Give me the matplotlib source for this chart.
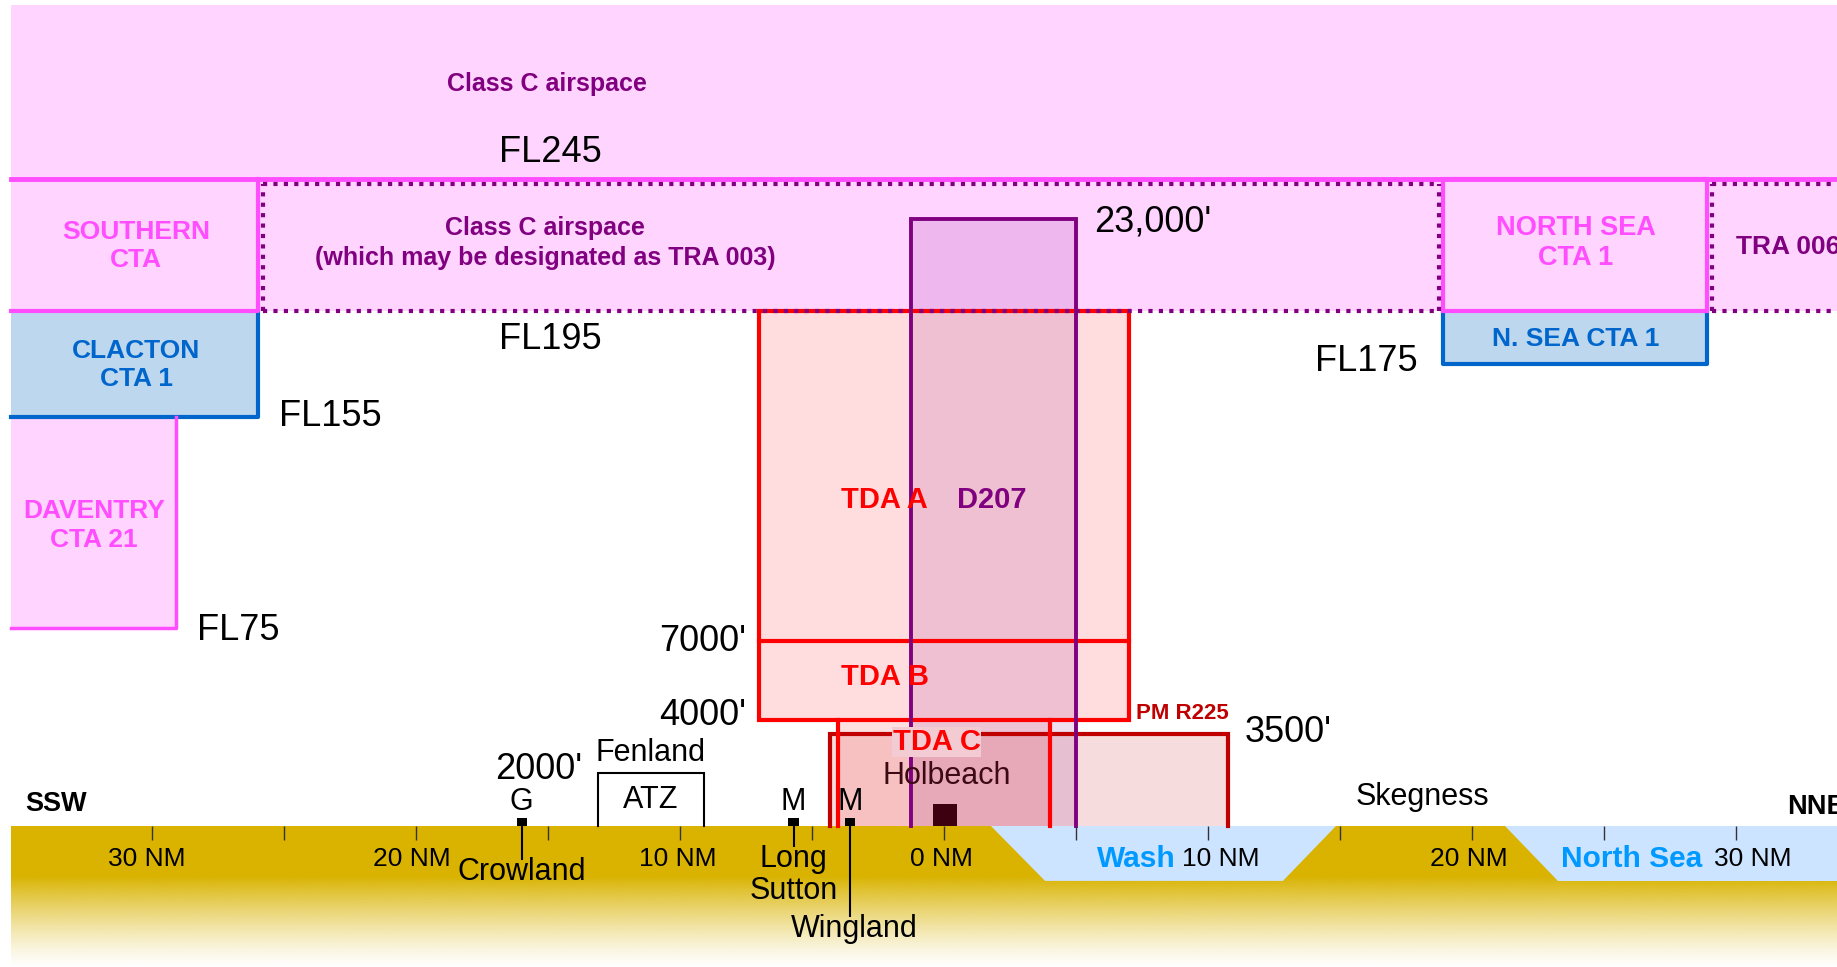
import numpy as np
import matplotlib.pyplot as plt
from matplotlib import font_manager
from matplotlib.patches import Rectangle, Polygon

plt.rcParams['font.family'] = ['Liberation Sans', 'DejaVu Sans']

# the zone names are set in a condensed bold face
installed = {f.name for f in font_manager.fontManager.ttflist}
if 'Liberation Sans Narrow' in installed:
    zone_font = ['Liberation Sans Narrow', 'Liberation Sans']
    zone_scale = 1.2
else:
    zone_font = ['Liberation Sans', 'DejaVu Sans']
    zone_scale = 1.0

# x = distance in NM from Holbeach (negative towards SSW), y = altitude in ft
view_x = (-35.76, 33.83)
view_y = (-5341, 31288)
map_left = -35.35
sky_top = 31100

# airspace blocks (x0, x1, base, top)
class_c = (map_left, view_x[1], 19500, sky_top)
southern_cta = (map_left, -26.0, 19500, 24500)
clacton_cta = (map_left, -26.0, 15500, 19500)
daventry_cta = (map_left, -29.1, 7500, 15500)
north_sea_cta = (18.9, 28.9, 19500, 24500)
n_sea_cta = (18.9, 28.9, 17500, 19500)
d207 = (-1.25, 5.0, 0, 23000)
tda_ab = (-7.0, 7.0, 4000, 19500)
tda_split = 7000
tda_c = (-4.0, 4.0, 0, 4000)
r225 = (-4.3, 10.75, 0, 3500)
fenland_atz = (-13.1, -9.1, 0, 2000)
tra_edges = [-25.8, 18.75, 29.1]

# level labels
level_text = ["FL245", "FL195", "FL155", "FL75", "FL175", "23,000'", "7000'", "4000'", "3500'", "2000'"]
level_ft = [24500, 19500, 15500, 7500, 17500, 23000, 7000, 4000, 3500, 2000]
level_x = [-14.9, -14.9, -25.2, -28.3, 16.0, 5.7, -7.5, -7.5, 11.4, -15.35]
level_ha = ['center', 'center', 'left', 'left', 'center', 'left', 'right', 'right', 'left', 'center']
level_dy = [1030, -1090, 0, -110, 110, -120, 0, 200, 60, 150]

# ground and sea
ticks_nm = np.arange(-30, 31, 5)
scale_nm = [-30, -20, -10, 0, 10, 20, 30]
scale_label_x = [-30.2, -20.15, -10.1, -0.1, 10.5, 19.9, 30.65]
sea_depth = -2080
solid_ground = -1930
wash_top = (1.78, 14.85)
wash_bottom = (3.83, 12.84)
north_sea_top = 21.25
north_sea_bottom = 23.26

# places on the ground
mark_x = [-16.0, -5.7, -3.56]
mark_text = ["G", "M", "M"]
place_names = ["Crowland", "Long\nSutton", "Wingland"]
place_x = [-16.0, -5.7, -3.4]
leader_end = [-1290, -800, -3450]
place_y = [-1750, -1850, -3900]
holbeach_x = 0.05

pink = '#FFD4FF'
magenta = '#FF4DFF'
purple = '#800080'
blue = '#0066CC'
red = '#FF0000'
dark_red = '#C00000'

fig = plt.figure(figsize=(18.37, 9.67), dpi=100)
ax = fig.add_axes([0, 0, 1, 1])
ax.set_axis_off()


def fill(blk, color, z, alpha=1.0):
    x0, x1, b, t = blk
    ax.add_patch(Rectangle((x0, b), x1 - x0, t - b, facecolor=color,
                           edgecolor='none', alpha=alpha, zorder=z))


def three_sides(blk, color, lw, z):
    x0, x1, b, t = blk
    ax.plot([x0, x0, x1, x1], [b, t, t, b], color=color, lw=lw, zorder=z,
            solid_joinstyle='miter')


# fills
fill(class_c, pink, 1)
fill(clacton_cta, '#BDD7EE', 2)
fill(daventry_cta, pink, 2)
fill(n_sea_cta, '#BDD7EE', 2)
fill(r225, '#F6DCDC', 3)
fill(tda_ab, '#FFDDDE', 3)
fill(tda_c, red, 4, alpha=0.12)
fill(d207, purple, 5, alpha=0.13)

# ground with fading bottom
ax.add_patch(Rectangle((map_left, solid_ground), view_x[1] - map_left, -solid_ground,
                       facecolor='#D9B300', edgecolor='none', zorder=6))
fade = np.zeros((200, 1, 4))
fade[:, 0, :3] = np.array([217, 179, 0]) / 255
fade[:, 0, 3] = np.linspace(0.02, 1, 200) ** 1.3
ax.imshow(fade, extent=[map_left, view_x[1], view_y[0], solid_ground],
          origin='lower', aspect='auto', zorder=6, interpolation='bilinear')
ax.add_patch(Polygon([(wash_top[0], 0), (wash_top[1], 0), (wash_bottom[1], sea_depth),
                      (wash_bottom[0], sea_depth)], facecolor='#CCE4FF', edgecolor='none', zorder=6))
ax.add_patch(Polygon([(north_sea_top, 0), (view_x[1], 0), (view_x[1], sea_depth),
                      (north_sea_bottom, sea_depth)], facecolor='#CCE4FF', edgecolor='none', zorder=6))

# borders
ax.plot([map_left, view_x[1]], [24500, 24500], color=magenta, lw=3.5, zorder=8)
ax.plot([map_left, southern_cta[1], southern_cta[1]], [19500, 19500, 24500], color=magenta, lw=3, zorder=8)
ax.plot([map_left, clacton_cta[1], clacton_cta[1]], [15500, 15500, 19500], color=blue, lw=3, zorder=7)
ax.plot([map_left, daventry_cta[1], daventry_cta[1]], [7500, 7500, 15500], color=magenta, lw=2.5, zorder=7)
x0, x1, b, t = n_sea_cta
ax.plot([x0, x0, x1, x1], [t, b, b, t], color=blue, lw=3, zorder=7)
x0, x1, b, t = north_sea_cta
ax.add_patch(Rectangle((x0, b), x1 - x0, t - b, facecolor='none', edgecolor=magenta, lw=3, zorder=8))

x0, x1, b, t = tda_ab
ax.add_patch(Rectangle((x0, b), x1 - x0, t - b, facecolor='none', edgecolor=red, lw=3, zorder=7))
ax.plot([x0, x1], [tda_split, tda_split], color=red, lw=3, zorder=7)
three_sides(r225, dark_red, 3, 7)
ax.plot([tda_c[0], tda_c[0]], [0, 4000], color=red, lw=3, zorder=7)
ax.plot([tda_c[1], tda_c[1]], [0, 4000], color=red, lw=3, zorder=7)
three_sides(d207, purple, 2.8, 7)
three_sides(fenland_atz, 'black', 1.5, 7)

# TRA 003 / TRA 006 dotted boundaries
dots = dict(color=purple, lw=3, linestyle=(0, (1, 1.5)), zorder=9)
for y in (24330, 19500):
    ax.plot([tra_edges[0], tra_edges[1]], [y, y], **dots)
    ax.plot([tra_edges[2], view_x[1]], [y, y], **dots)
for x in tra_edges:
    ax.plot([x, x], [19500, 24330], **dots)

# NM scale
ax.vlines(ticks_nm, -530, 0, color='#333333', lw=1, zorder=7)
for nm, x in zip(scale_nm, scale_label_x):
    ax.text(x, -1250, f"{abs(nm)} NM", ha='center', va='center', fontsize=19, zorder=10)

# places
ax.bar(mark_x, 300, width=0.38, bottom=0, color='black', zorder=8)
ax.bar([holbeach_x], 830, width=0.9, bottom=0, color='#3D0010', zorder=8)
for x, s in zip(mark_x, mark_text):
    ax.text(x, 909, s, ha='center', va='center', fontsize=22, zorder=10)
ax.vlines(mark_x, leader_end, 0, color='black', lw=1.5, zorder=8)
for x, y, s in zip(place_x, place_y, place_names):
    ax.text(x, y, s, ha='center', va='center', fontsize=22, linespacing=1.1, zorder=10)
ax.text(holbeach_x + 0.05, 1894, "Holbeach", ha='center', va='center', fontsize=22, color='#3D0A14', zorder=10)
ax.text(-11.1, 2765, "Fenland", ha='center', va='center', fontsize=22, zorder=10)
ax.text(-11.1, 985, "ATZ", ha='center', va='center', fontsize=22, zorder=10)
ax.text(18.14, 1098, "Skegness", ha='center', va='center', fontsize=22, zorder=10)
ax.text(-34.8, 833, "SSW", ha='left', va='center', fontsize=19.5, fontweight='bold', zorder=10)
ax.text(31.93, 720, "NNE", ha='left', va='center', fontsize=19.5, fontweight='bold', zorder=10)
ax.text(7.3, -1250, "Wash", ha='center', va='center', fontsize=21.5, fontweight='bold', color='#0099FF', zorder=10)
ax.text(26.06, -1250, "North Sea", ha='center', va='center', fontsize=21.5, fontweight='bold', color='#0099FF', zorder=10)

# level labels
for s, y, x, ha, dy in zip(level_text, level_ft, level_x, level_ha, level_dy):
    ax.text(x, y + dy, s, ha=ha, va='center', fontsize=26, zorder=10)

# airspace names
bold = dict(ha='center', va='center', fontweight='bold', family=zone_font, zorder=10)
k = zone_scale
ax.text(-15.04, 28106, "Class C airspace", color=purple, fontsize=18 * k, **bold)
ax.text(-15.1, 22080, "Class C airspace\n(which may be designated as TRA 003)", color=purple,
        fontsize=18 * k, linespacing=1.3, **bold)
ax.text(-30.6, 21970, "SOUTHERN\nCTA", color=magenta, fontsize=19 * k, linespacing=1.25, **bold)
ax.text(-30.6, 17462, "CLACTON\nCTA 1", color=blue, fontsize=19 * k, linespacing=1.25, **bold)
ax.text(-32.2, 11383, "DAVENTRY\nCTA 21", color=magenta, fontsize=19 * k, linespacing=1.25, **bold)
ax.text(23.94, 22102, "NORTH SEA\nCTA 1", color=magenta, fontsize=19.5 * k, linespacing=1.2, **bold)
ax.text(23.94, 18447, "N. SEA CTA 1", color=blue, fontsize=19 * k, **bold)
ax.text(30.0, 21932, "TRA 006", color=purple, fontsize=19 * k, ha='left', va='center',
        fontweight='bold', family=zone_font, zorder=10)
ax.text(-2.27, 12348, "TDA A", color=red, fontsize=21 * k, **bold)
ax.text(1.82, 12348, "D207", color=purple, fontsize=21 * k, **bold)
ax.text(-2.23, 5644, "TDA B", color=red, fontsize=21 * k, **bold)
ax.text(-0.27, 3182, "TDA C", color=red, fontsize=21 * k,
        bbox=dict(facecolor='#F2CBD3', edgecolor='none', pad=0.5), **bold)
ax.text(9.05, 4280, "PM R225", color=dark_red, fontsize=16 * k, **bold)

ax.set_xlim(*view_x)
ax.set_ylim(*view_y)
fig.savefig('out.png', dpi=100)
